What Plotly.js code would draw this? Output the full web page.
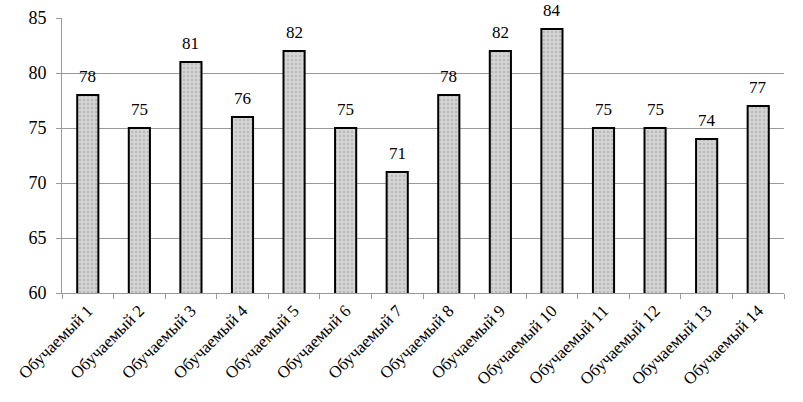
<!DOCTYPE html>
<html><head><meta charset="utf-8">
<script src="https://cdn.plot.ly/plotly-3.0.1.min.js"></script>
<style>body{margin:0;background:#fff}#c{width:803px;height:402px}</style>
</head><body><div id="c"></div>
<script>
const categories = ["Обучаемый 1","Обучаемый 2","Обучаемый 3","Обучаемый 4","Обучаемый 5","Обучаемый 6","Обучаемый 7","Обучаемый 8","Обучаемый 9","Обучаемый 10","Обучаемый 11","Обучаемый 12","Обучаемый 13","Обучаемый 14"];
const scores = [78,75,81,76,82,75,71,78,82,84,75,75,74,77];
const yTicks = [60,65,70,75,80,85];

const fam = "Liberation Serif, Times New Roman, serif";
const labels = categories.map((c, i) => ({
  x: c, y: scores[i], xref:"x", yref:"y", text: String(scores[i]),
  showarrow:false, yanchor:"bottom", yshift:7,
  font:{family:fam, size:17, color:"#000"}
}));
Plotly.newPlot("c", [{
  type:"bar", x:categories, y:scores,
  marker:{color:"#d2d2d2", line:{color:"#000", width:2},
    pattern:{shape:".", bgcolor:"#d4d4d4", fgcolor:"#a0a0a0", size:4, solidity:0.3, fillmode:"overlay"}},
  hoverinfo:"none"
}], {
  width:803, height:402,
  margin:{l:62, r:19, t:18, b:109},
  paper_bgcolor:"#fff", plot_bgcolor:"#fff",
  font:{family:fam, size:17, color:"#000"}, showlegend:false, bargap:0.59,
  annotations: labels,
  xaxis:{type:"category", tickangle:-45, showline:true, linecolor:"#999", linewidth:1,
    ticks:"outside", tickson:"boundaries", ticklen:5, tickcolor:"#999", showgrid:false,
    tickfont:{family:fam, size:17, color:"#000"}},
  yaxis:{range:[60,85], tickvals:yTicks, showline:true, linecolor:"#999", linewidth:1,
    ticks:"outside", ticklen:5, tickcolor:"#999", showgrid:true, gridcolor:"#999", gridwidth:1,
    ticklabelstandoff:6,
    zeroline:false, tickfont:{family:fam, size:18, color:"#000"}}
}, {staticPlot:true});
</script></body></html>
